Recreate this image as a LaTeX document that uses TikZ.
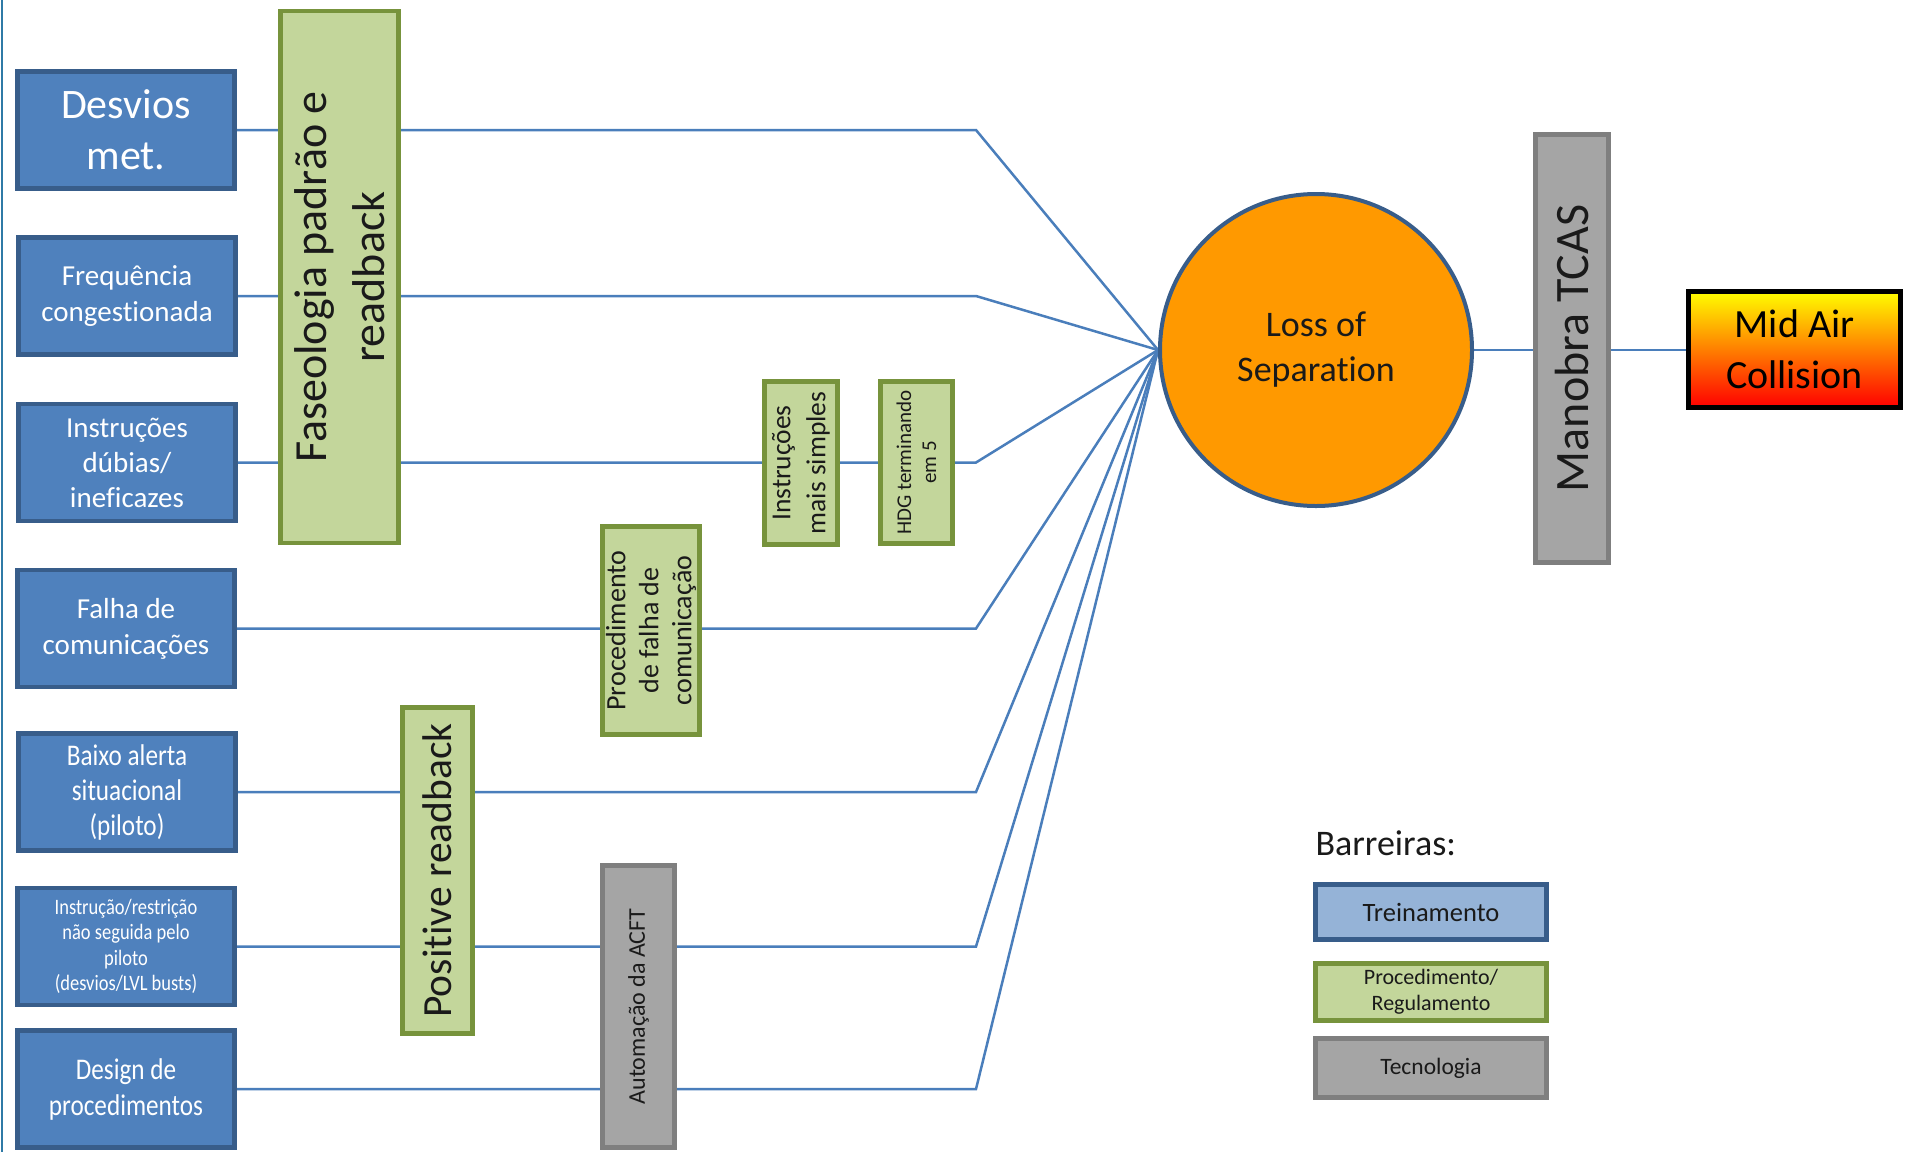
\documentclass[tikz,border=0pt]{standalone}
\usepackage{fontspec}
\setmainfont[Ligatures=NoCommon]{Carlito}
\newfontfamily\estreita[FakeStretch=0.84, Ligatures=NoCommon]{Carlito}
\usetikzlibrary{backgrounds}

\definecolor{azulcausa}{HTML}{4F81BD}
\definecolor{azulborda}{HTML}{385D8A}
\definecolor{azulclaro}{HTML}{95B3D7}
\definecolor{verdebarreira}{HTML}{C3D69B}
\definecolor{verdeborda}{HTML}{77933C}
\definecolor{cinzabarreira}{HTML}{A5A5A5}
\definecolor{cinzaborda}{HTML}{7F7F7F}
\definecolor{laranja}{HTML}{FF9900}
\definecolor{azullinha}{HTML}{4A7EBB}
\definecolor{bordaesq}{HTML}{2F7AA6}
\definecolor{textoescuro}{HTML}{1A1A1A}

\tikzset{
  causa/.style={draw=azulborda, fill=azulcausa, line width=4.5pt, text=white,
    align=center, minimum width=217pt, minimum height=117pt, inner sep=2pt},
  barreira/.style={draw=verdeborda, fill=verdebarreira, line width=4.5pt,
    text=textoescuro, align=center, rotate=90, inner sep=2pt},
  tecnologia/.style={draw=cinzaborda, fill=cinzabarreira, line width=4.5pt,
    text=textoescuro, align=center, rotate=90, inner sep=2pt},
  legenda/.style={line width=4.5pt, text=textoescuro, align=center,
    minimum width=231pt, inner sep=2pt},
  ligacao/.style={draw=azullinha, line width=2.5pt},
}

\begin{document}
\begin{tikzpicture}[x=1pt, y=-1pt]

    \useasboundingbox (0, 0) rectangle (1905, 1152);

    % Borda esquerda
    \draw[bordaesq, line width=2.5pt] (2, 0) -- (2, 1152);

    % Causas
    \node[causa, font={\fontsize{42}{51}\selectfont}] (desvios) at (126, 130)
      {Desvios\\met.};
    \node[causa, font={\fontsize{29}{36}\selectfont}] (frequencia) at (127, 296)
      {Frequência\\congestionada};
    \node[causa, font={\fontsize{29}{35}\selectfont}] (instrucoes) at (127, 462.5)
      {Instruções\\dúbias/\\ineficazes};
    \node[causa, font={\fontsize{29}{36}\selectfont}] (falha) at (126, 628.5)
      {Falha de\\comunicações};
    \node[causa, font={\estreita\fontsize{30}{35}\selectfont}] (baixo) at (127, 792)
      {Baixo alerta\\situacional\\(piloto)};
    \node[causa, font={\estreita\fontsize{22}{25.5}\selectfont}] (restricao) at (126, 946.5)
      {Instrução/restrição\\não seguida pelo\\piloto\\(desvios/LVL busts)};
    \node[causa, font={\estreita\fontsize{30}{36}\selectfont}] (design) at (126, 1089)
      {Design de\\procedimentos};

    % Evento topo e consequência
    \node[circle, draw=azulborda, fill=laranja, line width=4pt, minimum size=312pt,
      align=center, text=textoescuro, font={\fontsize{36}{45}\selectfont}]
      (loss) at (1316, 350) {Loss of\\Separation};
    \node[draw=black, line width=5pt, top color=yellow, bottom color=red,
      minimum width=212pt, minimum height=116pt, align=center,
      font={\fontsize{40}{51}\selectfont}] (midair) at (1794.5, 349)
      {Mid Air\\Collision};

    \coordinate (juncao) at (976, 0);

    % Barreiras
    \node[barreira, minimum width=532pt, minimum height=118pt,
      font={\fontsize{46}{58}\selectfont}] (faseologia) at (339.5, 277)
      {Faseologia padrão e\\readback};
    \node[barreira, minimum width=326pt, minimum height=70pt,
      font={\fontsize{41.5}{48}\selectfont}] (positive) at (437.5, 870.5)
      {Positive readback};
    \node[barreira, minimum width=208pt, minimum height=97pt,
      font={\fontsize{28}{33}\selectfont}] (procfalha) at (651, 630.5)
      {Procedimento\\de falha de\\comunicação};
    \node[barreira, minimum width=163pt, minimum height=73pt,
      font={\fontsize{27.5}{35}\selectfont}] (simples) at (801, 463)
      {Instruções\\mais simples};
    \node[barreira, minimum width=162pt, minimum height=72pt,
      font={\fontsize{21}{25}\selectfont}] (hdg) at (916.5, 462.5)
      {HDG terminando\\em 5};
    \node[tecnologia, minimum width=282pt, minimum height=72pt,
      font={\fontsize{24}{29}\selectfont}] (automacao) at (638.5, 1006.5)
      {Automação da ACFT};
    \node[tecnologia, minimum width=428pt, minimum height=73pt,
      font={\fontsize{48}{56}\selectfont}] (manobra) at (1572, 348.5)
      {Manobra TCAS};

    % Ligações
    \begin{pgfonlayer}{background}
      \foreach \c in {desvios, frequencia, instrucoes, falha, baixo, restricao, design}
        \draw[ligacao] (\c.east) -- (\c.east -| juncao) -- (loss.west);
      \draw[ligacao] (loss.east) -- (loss.east -| midair.west);
    \end{pgfonlayer}

    % Legenda
    \node[anchor=west, text=textoescuro, font={\fontsize{36}{43}\selectfont}]
      (barreiras) at (1312, 843) {Barreiras:};
    \node[legenda, draw=azulborda, fill=azulclaro, minimum height=55pt,
      font={\fontsize{26.5}{32}\selectfont}] (treinamento) at (1431, 912)
      {Treinamento};
    \node[legenda, draw=verdeborda, fill=verdebarreira, minimum height=57pt,
      font={\fontsize{22}{26}\selectfont}] (procedimento) at (1431, 992)
      {Procedimento/\\Regulamento};
    \node[legenda, draw=cinzaborda, fill=cinzabarreira, minimum height=59pt,
      font={\fontsize{23.5}{28}\selectfont}] (tecnologialeg) at (1431, 1068)
      {Tecnologia};

  \end{tikzpicture}
\end{document}
